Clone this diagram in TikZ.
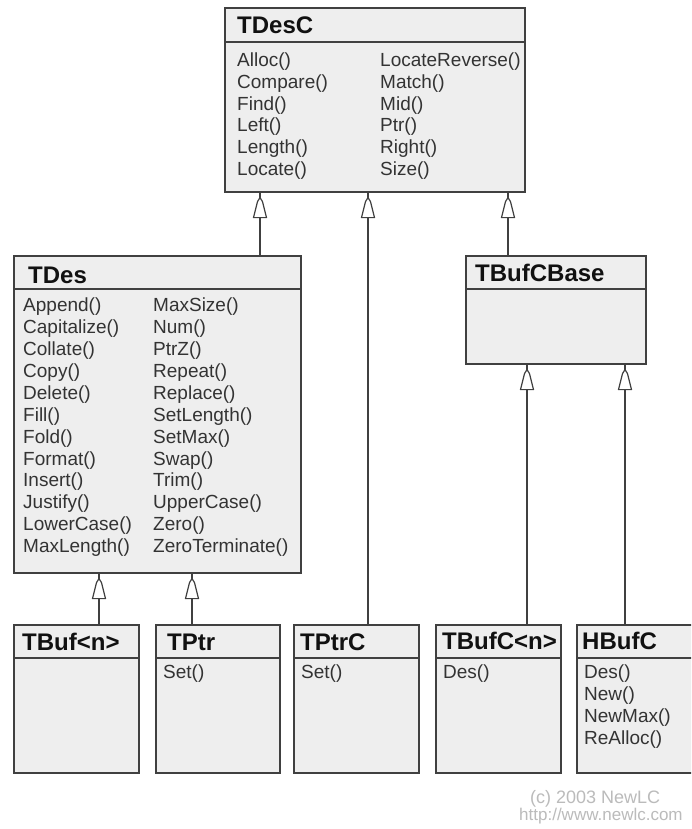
\documentclass[tikz,border=0pt]{standalone}
\usepackage{fontspec}
\setmainfont{Liberation Sans}
\definecolor{boxfill}{HTML}{EEEEEE}
\definecolor{linec}{HTML}{404040}
\definecolor{methc}{HTML}{333333}
\definecolor{hdrc}{HTML}{111111}
\definecolor{copyc}{HTML}{BBBBBB}
\begin{document}
\begin{tikzpicture}[x=1pt,y=-1pt,
  cls/.style={draw=linec, line width=1.6pt, fill=boxfill, rectangle, anchor=north west, inner sep=0pt},
  hdr/.style={anchor=base west, inner sep=0pt, font=\fontsize{24}{28}\selectfont\bfseries, text=hdrc},
  meth/.style={anchor=base west, inner sep=0pt, font=\fontsize{19}{22}\selectfont, text=methc},
  copytxt/.style={anchor=base west, inner sep=0pt, font=\fontsize{18}{20}\selectfont, text=copyc},
  conn/.style={draw=linec, line width=1.6pt},
  sepline/.style={draw=linec, line width=1.6pt},
  nib/.pic={\filldraw[fill=white, draw=linec, line width=1.2pt, line join=round]
     (0,5) -- (-2.5,9) -- (-6.5,25) -- (6.5,25) -- (2.5,9) -- cycle;}
]
\clip (0,0) rectangle (691,829);
\fill[white] (0,0) rectangle (691,829);

% ---------- boxes ----------
\node[cls, minimum width=300pt, minimum height=184pt] (tdesc) at (224,7) {};
\draw[sepline] ([yshift=-35pt]tdesc.north west) -- ([yshift=-35pt]tdesc.north east);
\node[cls, minimum width=287pt, minimum height=317pt] (tdes) at (13,255) {};
\draw[sepline] ([yshift=-34pt]tdes.north west) -- ([yshift=-34pt]tdes.north east);
\node[cls, minimum width=180pt, minimum height=108pt] (tbufcbase) at (465,255) {};
\draw[sepline] ([yshift=-34pt]tbufcbase.north west) -- ([yshift=-34pt]tbufcbase.north east);
\node[cls, minimum width=125pt, minimum height=148pt] (tbufn) at (13,624) {};
\draw[sepline] ([yshift=-34pt]tbufn.north west) -- ([yshift=-34pt]tbufn.north east);
\node[cls, minimum width=124pt, minimum height=148pt] (tptr) at (155,624) {};
\draw[sepline] ([yshift=-34pt]tptr.north west) -- ([yshift=-34pt]tptr.north east);
\node[cls, minimum width=125pt, minimum height=148pt] (tptrc) at (293,624) {};
\draw[sepline] ([yshift=-34pt]tptrc.north west) -- ([yshift=-34pt]tptrc.north east);
\node[cls, minimum width=125pt, minimum height=148pt] (tbufcn) at (435,624) {};
\draw[sepline] ([yshift=-34pt]tbufcn.north west) -- ([yshift=-34pt]tbufcn.north east);
\node[cls, minimum width=134pt, minimum height=148pt] (hbufc) at (576,624) {};
\draw[sepline] ([yshift=-34pt]hbufc.north west) -- ([yshift=-34pt]hbufc.north east);

% ---------- headers ----------
\node[hdr] (h-tdesc) at (237,33.3) {TDesC};
\node[hdr] (h-tdes) at (28,283) {TDes};
\node[hdr] (h-tbufcbase) at (475,281.7) {TBufCBase};
\node[hdr] (h-tbufn) at (22,650) {TBuf<n>};
\node[hdr] (h-tptr) at (167,650) {TPtr};
\node[hdr] (h-tptrc) at (300,650) {TPtrC};
\node[hdr] (h-tbufcn) at (442,649) {TBufC<n>};
\node[hdr] (h-hbufc) at (582,649) {HBufC};

% ---------- methods ----------
\foreach \t [count=\i] in {Alloc(),Compare(),Find(),Left(),Length(),Locate()}
  \node[meth] (tdescA\i) at ({237},{66.7+21.7*(\i-1)}) {\t};
\foreach \t [count=\i] in {LocateReverse(),Match(),Mid(),Ptr(),Right(),Size()}
  \node[meth] (tdescB\i) at ({380},{66.7+21.7*(\i-1)}) {\t};
\foreach \t [count=\i] in {Append(),Capitalize(),Collate(),Copy(),Delete(),Fill(),Fold(),Format(),Insert(),Justify(),LowerCase(),MaxLength()}
  \node[meth] (tdesA\i) at ({23},{311.7+21.9*(\i-1)}) {\t};
\foreach \t [count=\i] in {MaxSize(),Num(),PtrZ(),Repeat(),Replace(),SetLength(),SetMax(),Swap(),Trim(),UpperCase(),Zero(),ZeroTerminate()}
  \node[meth] (tdesB\i) at ({153},{311.7+21.9*(\i-1)}) {\t};
\node[meth] (m-tptr) at (163,678) {Set()};
\node[meth] (m-tptrc) at (301,678) {Set()};
\node[meth] (m-tbufcn) at (443,678) {Des()};
\foreach \t [count=\i] in {Des(),New(),NewMax(),ReAlloc()}
  \node[meth] (hbufcM\i) at ({584},{678+22*(\i-1)}) {\t};

% ---------- connectors ----------
\coordinate (xa) at (260,0);
\coordinate (xb) at (368,0);
\coordinate (xc) at (508,0);
\coordinate (xd) at (99,0);
\coordinate (xe) at (192,0);
\coordinate (xf) at (527,0);
\coordinate (xg) at (625,0);

\draw[conn] (tdes.north -| xa) -- (tdesc.south -| xa);
\pic at (tdesc.south -| xa) {nib};
\draw[conn] (tptrc.north -| xb) -- (tdesc.south -| xb);
\pic at (tdesc.south -| xb) {nib};
\draw[conn] (tbufcbase.north -| xc) -- (tdesc.south -| xc);
\pic at (tdesc.south -| xc) {nib};
\draw[conn] (tbufn.north -| xd) -- (tdes.south -| xd);
\pic at (tdes.south -| xd) {nib};
\draw[conn] (tptr.north -| xe) -- (tdes.south -| xe);
\pic at (tdes.south -| xe) {nib};
\draw[conn] (tbufcn.north -| xf) -- (tbufcbase.south -| xf);
\pic at (tbufcbase.south -| xf) {nib};
\draw[conn] (hbufc.north -| xg) -- (tbufcbase.south -| xg);
\pic at (tbufcbase.south -| xg) {nib};

% ---------- copyright ----------
\node[copytxt] (copy1) at (530,803) {(c) 2003 NewLC};
\node[copytxt, font=\fontsize{17}{20}\selectfont] (copy2) at (519,820) {http://www.newlc.com};
\end{tikzpicture}
\end{document}
